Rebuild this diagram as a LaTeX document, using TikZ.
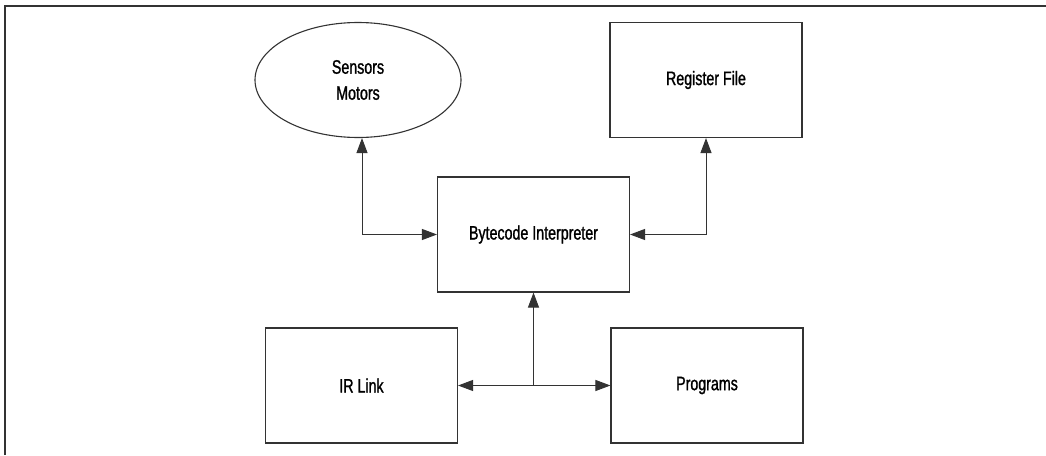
\documentclass[tikz,border=0pt]{standalone}
\usepackage{fontspec}
\setmainfont{Liberation Sans}[FakeStretch=0.73, FakeBold=1.2]
\usetikzlibrary{arrows.meta, shapes.geometric}

\begin{document}
\begin{tikzpicture}[x=1pt, y=-1pt,
    every node/.style={font=\fontsize{19.5}{26}\selectfont, align=center},
    unit/.style={draw=black!80, line width=1.1pt, minimum width=192pt, minimum height=115pt, inner sep=0pt},
    flow/.style={draw=black!80, line width=1pt, {Triangle[length=15pt,width=11pt]}-{Triangle[length=15pt,width=11pt]}},
    oneway/.style={draw=black!80, line width=1pt, -{Triangle[length=15pt,width=11pt]}}]
  \useasboundingbox (0,0) rectangle (1046,455);
  % frame
  \draw[black!80, line width=2pt] (5,455) -- (5,6) -- (1046,6);
  % top row
  \node[draw=black!80, line width=1.1pt, ellipse, minimum width=206pt, minimum height=115pt, inner sep=0pt] (sm) at (358,80) {Sensors\\Motors};
  \node[unit] (rf) at (706,80) {Register File};
  % middle
  \node[unit] (bi) at (533.5,234.5) {Bytecode Interpreter};
  % bottom row
  \node[unit] (ir) at (361.5,385.5) {IR Link};
  \node[unit] (pg) at (707,385.5) {Programs};
  % junction under the interpreter
  \coordinate (j) at (bi.south |- ir.east);
  % links
  \draw[flow] ([xshift=4pt]sm.south) |- (bi.west);
  \draw[flow] (rf.south) |- (bi.east);
  \draw[flow] (ir.east) -- (pg.west);
  \draw[oneway] (j) -- (bi.south);
\end{tikzpicture}
\end{document}
